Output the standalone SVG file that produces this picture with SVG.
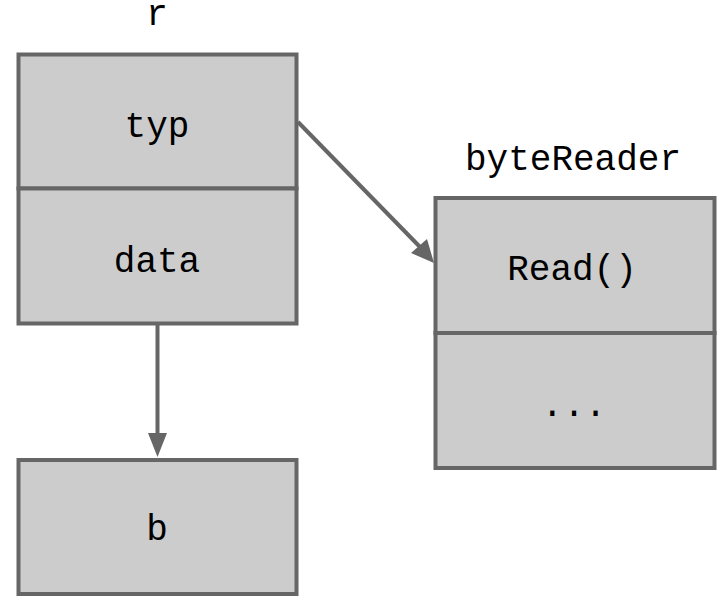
<svg xmlns="http://www.w3.org/2000/svg" width="719" height="596" viewBox="0 0 719 596">
  <style>
    .cell { fill: #cccccc; stroke: #666666; stroke-width: 4; }
    .label { font-family: "Liberation Mono", "Courier New", monospace; font-size: 36px; fill: #000000; text-anchor: middle; }
    .edge { stroke: #666666; stroke-width: 4; fill: none; }
    .head { fill: #666666; }
  </style>

  <!-- struct r with two fields -->
  <g id="node-r">
    <text class="label" x="157" y="25">r</text>
    <rect class="cell" x="18.5" y="54.5" width="278" height="134"/>
    <text class="label" x="157" y="137">typ</text>
    <rect class="cell" x="18.5" y="188.5" width="278" height="135"/>
    <text class="label" x="157" y="272">data</text>
  </g>

  <!-- byteReader with its method table -->
  <g id="node-byteReader">
    <text class="label" x="573" y="170">byteReader</text>
    <rect class="cell" x="435.5" y="198" width="279" height="135"/>
    <text class="label" x="572" y="280">Read()</text>
    <rect class="cell" x="435.5" y="333" width="279" height="135"/>
    <text class="label" x="574" y="416">...</text>
  </g>

  <!-- backing buffer b -->
  <g id="node-b">
    <rect class="cell" x="18.5" y="460" width="278" height="134"/>
    <text class="label" x="157" y="540">b</text>
  </g>

  <!-- pointers -->
  <g id="connectors">
    <line class="edge" x1="298" y1="122" x2="421" y2="248"/>
    <polygon class="head" points="434,263 411,253 427,239"/>
    <line class="edge" x1="157.5" y1="323" x2="157.5" y2="436"/>
    <polygon class="head" points="157.5,457 148,433 167,433"/>
  </g>
</svg>
